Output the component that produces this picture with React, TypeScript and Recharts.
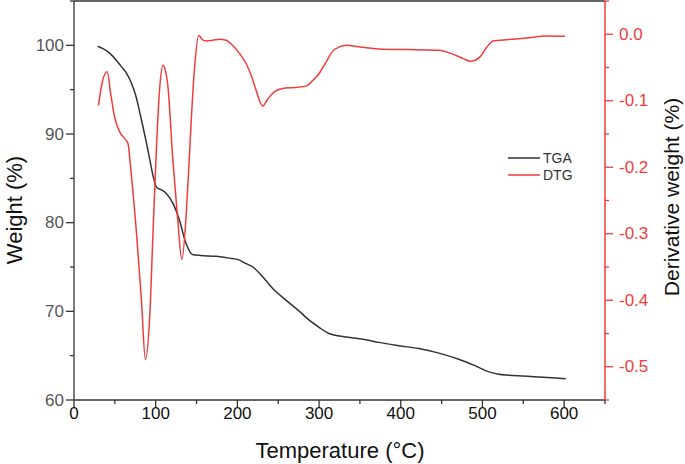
import React from "react";
import { LineChart, Line, XAxis, YAxis, Label, Legend, ReferenceLine } from "recharts";

// TGA curve (weight %)
const tempTGA = [29, 36, 44, 52, 58, 64, 70, 76, 82, 88, 93, 97, 101, 107, 113, 121, 129, 137, 145, 155, 174, 190, 202, 210, 219, 231, 243, 259, 276, 288, 300, 312, 333, 357, 373, 400, 422, 450, 471, 490, 507, 520, 532, 550, 568, 585, 602];
const weightTGA = [99.9, 99.6, 99.1, 98.3, 97.6, 96.9, 95.8, 94.2, 91.8, 89.3, 87.0, 85.2, 84.0, 83.7, 83.3, 82.2, 80.3, 77.7, 76.4, 76.3, 76.2, 76.0, 75.8, 75.4, 75.0, 73.9, 72.6, 71.3, 70.0, 69.0, 68.2, 67.5, 67.1, 66.8, 66.5, 66.1, 65.8, 65.2, 64.6, 63.9, 63.2, 62.9, 62.8, 62.7, 62.6, 62.5, 62.4];

// DTG curve (derivative weight %)
const tempDTG = [30, 35, 40.6, 45, 50, 56, 62, 66, 70, 76.5, 82.5, 87.4, 92.7, 96.7, 100.8, 105, 109, 112, 115, 121, 127, 132, 137.4, 141, 143.5, 147.6, 152.8, 157, 162, 170, 178, 186, 194, 202, 210.6, 217, 222.8, 231, 237, 243, 255, 270, 284, 292, 300, 308, 316, 325, 333, 350, 377, 410, 446, 467, 477, 485, 491, 497, 505, 513, 532, 560, 576, 601];
const derivDTG = [-0.107, -0.07, -0.0565, -0.09, -0.126, -0.147, -0.157, -0.164, -0.209, -0.299, -0.399, -0.489, -0.424, -0.299, -0.174, -0.079, -0.0465, -0.055, -0.079, -0.189, -0.279, -0.339, -0.27, -0.19, -0.13, -0.05, -0.0015, -0.008, -0.01, -0.009, -0.0075, -0.009, -0.0165, -0.028, -0.044, -0.062, -0.084, -0.108, -0.098, -0.089, -0.0815, -0.08, -0.078, -0.07, -0.059, -0.043, -0.0265, -0.019, -0.0165, -0.019, -0.0225, -0.023, -0.024, -0.0315, -0.037, -0.0405, -0.039, -0.034, -0.02, -0.01, -0.008, -0.005, -0.0025, -0.003];

const xTicks = [0, 50, 100, 150, 200, 250, 300, 350, 400, 450, 500, 550, 600, 650];
const leftTicks = [60, 65, 70, 75, 80, 85, 90, 95, 100, 105];
const rightTicks = [-0.55, -0.5, -0.45, -0.4, -0.35, -0.3, -0.25, -0.2, -0.15, -0.1, -0.05, 0, 0.05];

const tgaData = tempTGA.map((t, i) => ({ t, w: weightTGA[i] }));
const dtgData = tempDTG.map((t, i) => ({ t, d: derivDTG[i] }));

const FONT = "'Liberation Sans', Arial, sans-serif";
const RED = "#f03c3c";
const DARK = "#333";

function makeTick(side: "left" | "right" | "bottom", isMajor: (v: number) => boolean, fmt: (v: number) => string, color: string, stroke: string) {
  return (props: any) => {
    const { x, y, payload } = props;
    const v = payload.value;
    const major = isMajor(v);
    const len = major ? 8 : 4;
    if (side === "bottom") {
      return (
        <g>
          <line x1={x} y1={y} x2={x} y2={y + len} stroke={stroke} strokeWidth={1.3} />
          {major && (
            <text x={x} y={y + 13} textAnchor="middle" dominantBaseline="central" fontSize={17} fontFamily={FONT} fill={color}>
              {fmt(v)}
            </text>
          )}
        </g>
      );
    }
    if (side === "left") {
      return (
        <g>
          <line x1={x} y1={y} x2={x - len} y2={y} stroke={stroke} strokeWidth={1.3} />
          {major && (
            <text x={x - 10} y={y} textAnchor="end" dominantBaseline="central" fontSize={17} fontFamily={FONT} fill={color}>
              {fmt(v)}
            </text>
          )}
        </g>
      );
    }
    return (
      <g>
        <line x1={x} y1={y} x2={x + len} y2={y} stroke={stroke} strokeWidth={1.3} />
        {major && (
          <text x={x + 14} y={y} textAnchor="start" dominantBaseline="central" fontSize={17} fontFamily={FONT} fill={color}>
            {fmt(v)}
          </text>
        )}
      </g>
    );
  };
}

const xTick = makeTick("bottom", (v) => v % 100 === 0, (v) => String(v), "#111", DARK);
const leftTick = makeTick("left", (v) => v % 10 === 0, (v) => String(v), "#555", DARK);
const rightTick = makeTick(
  "right",
  (v) => Math.round(v * 100) % 10 === 0,
  (v) => (Math.abs(v) < 1e-9 ? "0.0" : v.toFixed(1)),
  RED,
  RED
);

const legendContent = () => (
  <svg width={90} height={40}>
    <line x1={3} y1={8} x2={35} y2={8} stroke={DARK} strokeWidth={1.5} />
    <text x={38} y={8} dominantBaseline="central" fontSize={14} fontFamily={FONT} fill={DARK}>TGA</text>
    <line x1={3} y1={25} x2={35} y2={25} stroke={RED} strokeWidth={1.5} />
    <text x={38} y={25} dominantBaseline="central" fontSize={14} fontFamily={FONT} fill={DARK}>DTG</text>
  </svg>
);

export default function App() {
  return (
    <div style={{ position: "absolute", left: 0, top: 0, width: 685, height: 464, background: "#fff" }}>
      <LineChart width={685} height={464} margin={{ top: 1, right: 0, bottom: 0, left: 0 }}>
        <XAxis
          dataKey="t"
          type="number"
          domain={[0, 650]}
          ticks={xTicks}
          interval={0}
          height={64}
          allowDataOverflow
          axisLine={{ stroke: DARK, strokeWidth: 1.3 }}
          tickLine={false}
          tickSize={0}
          tickMargin={0}
          tick={xTick}
        >
          <Label
            content={() => (
              <text x={340} y={450} textAnchor="middle" dominantBaseline="central" fontSize={22} fontFamily={FONT} fill="#111">
                Temperature (°C)
              </text>
            )}
          />
        </XAxis>
        <YAxis
          yAxisId="left"
          domain={[60, 105]}
          ticks={leftTicks}
          interval={0}
          width={74}
          allowDataOverflow
          axisLine={{ stroke: DARK, strokeWidth: 1.3 }}
          tickLine={false}
          tickSize={0}
          tickMargin={0}
          tick={leftTick}
        >
          <Label
            content={() => (
              <text x={14} y={210} transform="rotate(-90 14 210)" textAnchor="middle" dominantBaseline="central" fontSize={22} fontFamily={FONT} fill="#111">
                Weight (%)
              </text>
            )}
          />
        </YAxis>
        <YAxis
          yAxisId="right"
          orientation="right"
          domain={[-0.55, 0.05]}
          ticks={rightTicks}
          interval={0}
          width={80}
          allowDataOverflow
          axisLine={{ stroke: RED, strokeWidth: 1.5 }}
          tickLine={false}
          tickSize={0}
          tickMargin={0}
          tick={rightTick}
        >
          <Label
            content={() => (
              <text x={671} y={197} transform="rotate(-90 671 197)" textAnchor="middle" dominantBaseline="central" fontSize={21} fontFamily={FONT} fill="#111">
                Derivative weight (%)
              </text>
            )}
          />
        </YAxis>
        <ReferenceLine yAxisId="left" y={105} stroke={DARK} strokeWidth={1.3} />
        <Legend layout="vertical" align="center" verticalAlign="middle" wrapperStyle={{ left: 505, top: 150, width: 90, height: 40 }} content={legendContent} />
        <Line
          yAxisId="left"
          data={tgaData}
          dataKey="w"
          type="monotone"
          stroke={DARK}
          strokeWidth={1.5}
          dot={false}
          isAnimationActive={false}
        />
        <Line
          yAxisId="right"
          data={dtgData}
          dataKey="d"
          type="monotone"
          stroke={RED}
          strokeWidth={1.5}
          dot={false}
          isAnimationActive={false}
        />
      </LineChart>
    </div>
  );
}
